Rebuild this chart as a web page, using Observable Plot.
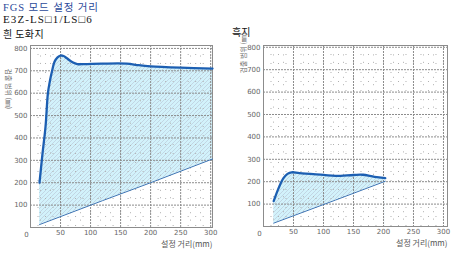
<!DOCTYPE html>
<html><head><meta charset="utf-8">
<script src="https://cdn.jsdelivr.net/npm/d3@7"></script>
<script src="https://cdn.jsdelivr.net/npm/@observablehq/plot@0.6"></script>
<style>
body{margin:0;background:#fff}
#wrap{position:relative;width:459px;height:253px;overflow:hidden}
.t{position:absolute;white-space:nowrap;line-height:10px;height:10px}
#wrap svg.chart{position:absolute;top:0}
</style></head><body>
<svg width="0" height="0" style="position:absolute">
  <defs>
    <pattern id="hatch" patternUnits="userSpaceOnUse" width="4" height="4">
      <rect width="4" height="4" fill="#d2f2fb"></rect>
      <path d="M-1,1 l2,-2 M0,4 l4,-4 M3,5 l2,-2" stroke="#b3bfd2" stroke-width="0.55"></path>
    </pattern>
  </defs>
</svg>
<div id="wrap">
  <div class="t" style="left:3px;top:-1px;font:10.5px 'Liberation Serif','Noto Sans CJK KR',serif;letter-spacing:0.9px;color:#2b4a9a">FGS 모드 설정 거리</div>
  <div class="t" style="left:3px;top:13px;font:11px 'Liberation Serif',serif;letter-spacing:1.1px;color:#111">E3Z-LS□1/LS□6</div>
  <div class="t" style="left:3px;top:26px;font:10px 'Noto Sans CJK KR',sans-serif;letter-spacing:0.4px;color:#111">흰 도화지</div>
  <div class="t" style="left:232px;top:24px;font:10px 'Noto Sans CJK KR',sans-serif;color:#111">흑지</div>
</div>
<script>
// Left chart: white paper
const whiteX = [15, 20, 25, 29, 32, 36, 40, 45, 50, 55, 60, 70, 78, 90, 120, 160, 180, 200, 250, 303];
const whiteUpper = [200, 330, 450, 600, 650, 700, 740, 760, 768, 766, 757, 738, 730, 730, 732, 732, 725, 720, 714, 710];
const whiteLowX = [15, 120, 200, 303];
const whiteLower = [13, 120, 200, 306];
// Right chart: black paper
const blackX = [17, 25, 33, 40, 47, 60, 100, 120, 150, 165, 185, 203];
const blackUpper = [113, 170, 215, 235, 242, 238, 230, 226, 230, 231, 222, 216];
const blackLowX = [17, 120, 203];
const blackLower = [15, 118, 202];
// Ticks and labels
const xTicks = [50, 100, 150, 200, 250, 300];
const yTicks = [100, 200, 300, 400, 500, 600, 700, 800];
const xMinor = [12.5, 25, 37.5, 62.5, 75, 87.5, 112.5, 125, 137.5, 162.5, 175, 187.5, 212.5, 225, 237.5, 262.5, 275, 287.5];
const yMinor = [33, 66, 133, 166, 233, 266, 333, 366, 433, 466, 533, 566, 633, 666, 733, 766];
const xTitle = "설정 거리(mm)";
const yTitle = "검출 범위 (㎜)";

function chart(xs, up, lx, lo, opt) {
  const upper = xs.map((x, i) => ({x, y: up[i]}));
  const lower = lx.map((x, i) => ({x, y: lo[i]}));
  const font = "DejaVu Sans, sans-serif";
  return Plot.plot({
    width: opt.width, height: 253,
    marginLeft: opt.ml, marginRight: opt.mr, marginTop: 45, marginBottom: opt.mb,
    x: {domain: [0, opt.xmax]},
    y: {domain: [0, opt.ymax]},
    style: {fontFamily: font, fontSize: "7px", color: "#666", background: "transparent", overflow: "visible"},
    marks: [
      Plot.areaY(upper, {x: "x", y: "y", fill: "url(#hatch)", curve: "catmull-rom"}),
      Plot.areaY(lower, {x: "x", y: "y", fill: "white"}),
      Plot.ruleX(xMinor, {stroke: "#b0b0b0", strokeDasharray: "1,8", strokeWidth: 1}),
      Plot.ruleY(yMinor, {stroke: "#b0b0b0", strokeDasharray: "1,9", strokeWidth: 1}),
      Plot.ruleX(xTicks, {stroke: "#8c8c8c", strokeDasharray: "2,1", strokeWidth: 1}),
      Plot.ruleY(yTicks, {stroke: "#8c8c8c", strokeDasharray: "2,1", strokeWidth: 1}),
      Plot.frame({stroke: "#8c8c8c"}),
      Plot.line(lower, {x: "x", y: "y", stroke: "#3b74b4", strokeWidth: 1}),
      Plot.line(upper, {x: "x", y: "y", stroke: "#1c5fb2", strokeWidth: 2.3, curve: "catmull-rom"}),
      Plot.axisX({ticks: xTicks, tickSize: 0, tickPadding: 3, label: null, fill: "#666"}),
      Plot.axisY({ticks: yTicks, tickSize: 0, tickPadding: 3, label: null, fill: "#666"}),
      Plot.text([0], {x: 0, y: 0, text: d => "0", dx: -4, dy: 7, fill: "#666", fontSize: 7}),
      Plot.text([xTitle], {frameAnchor: "bottom-right", dy: 19, text: d => d, fill: "#555", fontSize: 8, fontFamily: "Noto Sans CJK KR", textAnchor: "end"}),
      Plot.text([yTitle], {frameAnchor: "top-left", dx: opt.ydx, dy: opt.ydy, rotate: opt.rot, text: d => d, fill: "#666", fontSize: 7, fontFamily: "Noto Sans CJK KR"})
    ]
  });
}

const wrap = document.getElementById("wrap");
const left = chart(whiteX, whiteUpper, whiteLowX, whiteLower, {width: 230, ml: 30, mr: 18, mb: 26, xmax: 303, ymax: 813, rot: 90, ydx: -20, ydy: 23});
left.classList.add("chart"); left.style.left = "0px";
wrap.appendChild(left);
const right = chart(blackX, blackUpper, blackLowX, blackLower, {width: 229, ml: 33, mr: 12, mb: 27, xmax: 306.7, ymax: 808, rot: -90, ydx: -22, ydy: 28});
right.classList.add("chart"); right.style.left = "230px";
wrap.appendChild(right);
</script>
</body></html>
